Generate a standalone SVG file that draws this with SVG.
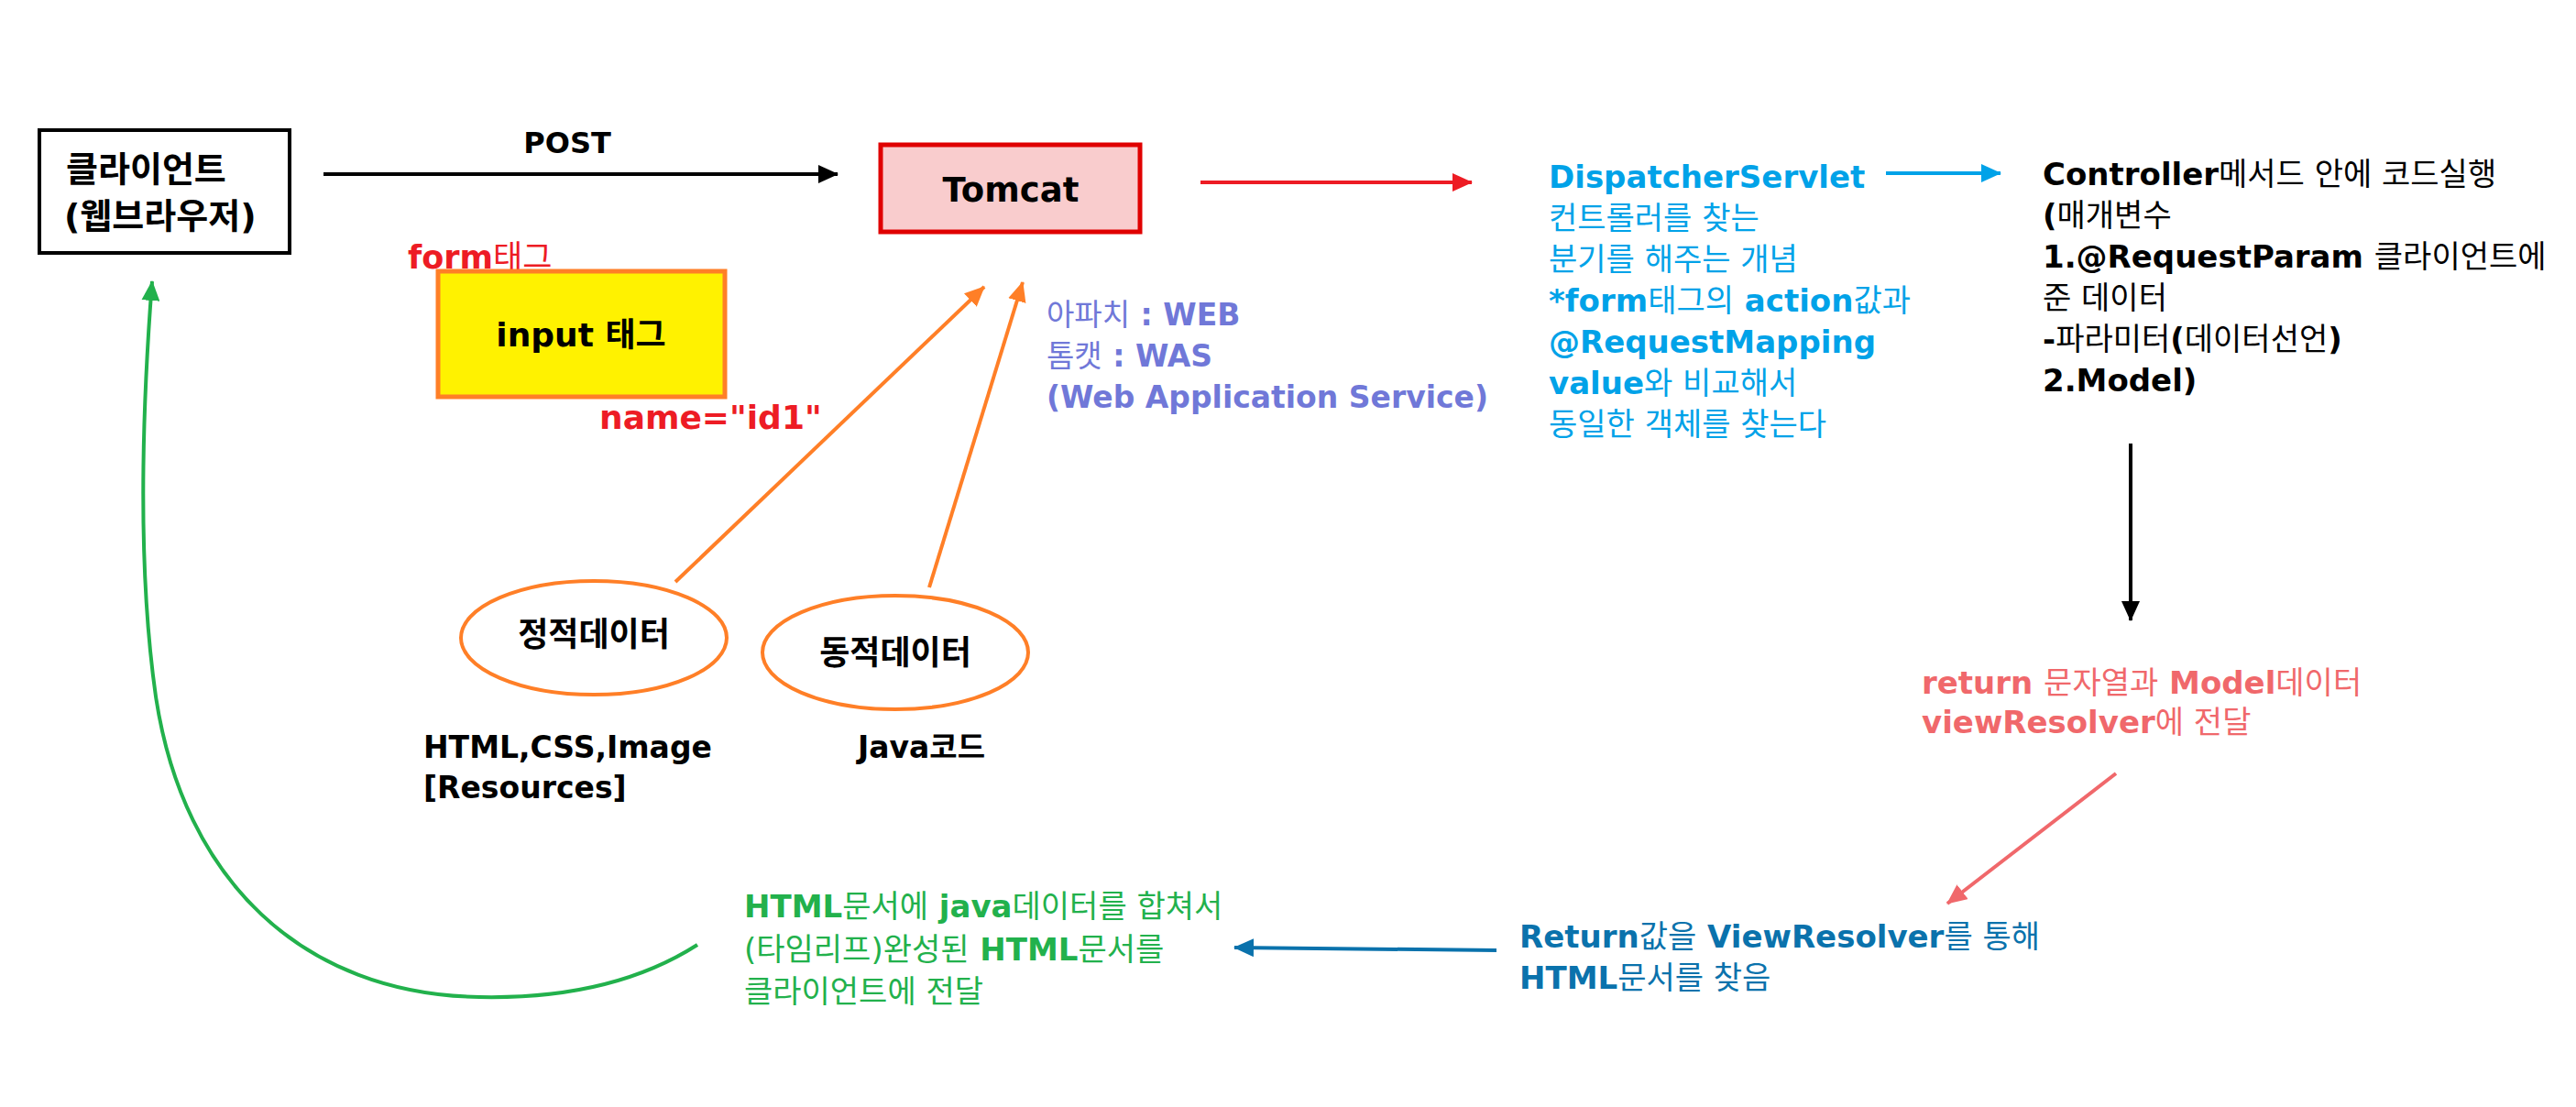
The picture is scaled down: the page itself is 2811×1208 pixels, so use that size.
<svg xmlns="http://www.w3.org/2000/svg" width="2811" height="1208" viewBox="0 0 2811 1208">
<style>
  text { font-family: "DejaVu Sans", "Noto Sans CJK KR", sans-serif; font-weight: bold; }
  .k { font-weight: normal; }
  .t34 { font-size: 34px; }
  .blk { fill: #000; }
  .red { fill: #ED1C24; }
  .peri { fill: #7078D8; }
  .cyan { fill: #00A2E8; }
  .pink { fill: #F0686B; }
  .dblue { fill: #0A72AC; }
  .green { fill: #22B14C; }
  .conn { fill: none; stroke-width: 4; }
</style>
<defs>
  <marker id="ah-black" markerUnits="userSpaceOnUse" viewBox="0 0 22 20" markerWidth="22" markerHeight="20" refX="21" refY="10" orient="auto"><path d="M0,0 L22,10 L0,20 z" fill="#000"/></marker>
  <marker id="ah-red" markerUnits="userSpaceOnUse" viewBox="0 0 22 20" markerWidth="22" markerHeight="20" refX="21" refY="10" orient="auto"><path d="M0,0 L22,10 L0,20 z" fill="#ED1C24"/></marker>
  <marker id="ah-cyan" markerUnits="userSpaceOnUse" viewBox="0 0 22 20" markerWidth="22" markerHeight="20" refX="21" refY="10" orient="auto"><path d="M0,0 L22,10 L0,20 z" fill="#00A2E8"/></marker>
  <marker id="ah-orange" markerUnits="userSpaceOnUse" viewBox="0 0 22 20" markerWidth="22" markerHeight="20" refX="21" refY="10" orient="auto"><path d="M0,0 L22,10 L0,20 z" fill="#FF7F27"/></marker>
  <marker id="ah-pink" markerUnits="userSpaceOnUse" viewBox="0 0 22 20" markerWidth="22" markerHeight="20" refX="21" refY="10" orient="auto"><path d="M0,0 L22,10 L0,20 z" fill="#F0686B"/></marker>
  <marker id="ah-dblue" markerUnits="userSpaceOnUse" viewBox="0 0 22 20" markerWidth="22" markerHeight="20" refX="21" refY="10" orient="auto"><path d="M0,0 L22,10 L0,20 z" fill="#0A72AC"/></marker>
  <marker id="ah-green" markerUnits="userSpaceOnUse" viewBox="0 0 22 20" markerWidth="22" markerHeight="20" refX="21" refY="10" orient="auto"><path d="M0,0 L22,10 L0,20 z" fill="#22B14C"/></marker>
</defs>
<rect width="2811" height="1208" fill="#fff"/>

<g id="connectors">
  <path class="conn" stroke="#000" d="M353,190 L914,190" marker-end="url(#ah-black)"/>
  <text class="blk" x="619" y="167" font-size="32" text-anchor="middle">POST</text>
  <path class="conn" stroke="#ED1C24" d="M1310,199 L1606,199" marker-end="url(#ah-red)"/>
  <path class="conn" stroke="#00A2E8" stroke-width="5" d="M2058,189 L2183,189" marker-end="url(#ah-cyan)"/>
  <path class="conn" stroke="#000" stroke-width="3" d="M2325,484 L2325,677" marker-end="url(#ah-black)"/>
  <path class="conn" stroke="#F0686B" d="M2309,844 L2125,986" marker-end="url(#ah-pink)"/>
  <path class="conn" stroke="#0A72AC" d="M1633,1037 L1347,1034" marker-end="url(#ah-dblue)"/>
  <path class="conn" stroke="#FF7F27" d="M737,635 L1074,313" marker-end="url(#ah-orange)"/>
  <path class="conn" stroke="#FF7F27" d="M1014,641 L1116,308" marker-end="url(#ah-orange)"/>
  <path class="conn" stroke="#22B14C" d="M761,1031 C700,1070 620,1090 523,1088 C330,1085 200,960 170,760 C150,620 155,450 166,307" marker-end="url(#ah-green)"/>
</g>

<g id="client">
  <rect x="43" y="142" width="273" height="134" fill="#fff" stroke="#000" stroke-width="4"/>
  <text class="blk" x="72" y="198" font-size="38">클라이언트</text>
  <text class="blk" x="70" y="249" font-size="38">(웹브라우저)</text>
</g>

<g id="tomcat">
  <rect x="961" y="158" width="283" height="95" fill="#F9CCCD" stroke="#E00000" stroke-width="5"/>
  <text class="blk" x="1103" y="220" font-size="37" text-anchor="middle">Tomcat</text>
</g>

<g id="form-input">
  <text class="red" x="445" y="293" font-size="35">form<tspan class="k">태그</tspan></text>
  <rect x="478" y="296" width="313" height="137" fill="#FFF200" stroke="#FF7F27" stroke-width="5"/>
  <text class="blk" x="634" y="378" font-size="36" text-anchor="middle">input 태그</text>
  <text class="red" x="654" y="468" font-size="36">name="id1"</text>
</g>

<g id="tomcat-note">
  <text class="peri" x="1142" y="355" font-size="33"><tspan class="k">아파치</tspan> : WEB</text>
  <text class="peri" x="1142" y="400" font-size="33"><tspan class="k">톰캣</tspan> : WAS</text>
  <text class="peri" x="1142" y="445" font-size="33">(Web Application Service)</text>
</g>

<g id="static-data">
  <ellipse cx="648" cy="696" rx="145" ry="62" fill="#fff" stroke="#FF7F27" stroke-width="4"/>
  <text class="blk" x="648" y="705" font-size="36" text-anchor="middle">정적데이터</text>
  <text class="blk" x="462" y="827" font-size="33">HTML,CSS,Image</text>
  <text class="blk" x="462" y="871" font-size="33">[Resources]</text>
</g>

<g id="dynamic-data">
  <ellipse cx="977" cy="712" rx="145" ry="62" fill="#fff" stroke="#FF7F27" stroke-width="4"/>
  <text class="blk" x="977" y="725" font-size="36" text-anchor="middle">동적데이터</text>
  <text class="blk" x="936" y="827" font-size="33">Java코드</text>
</g>

<g id="dispatcher" class="t34">
  <text class="cyan" x="1690" y="205">DispatcherServlet</text>
  <text class="cyan k" x="1690" y="250">컨트롤러를 찾는</text>
  <text class="cyan k" x="1690" y="295">분기를 해주는 개념</text>
  <text class="cyan" x="1690" y="340">*form<tspan class="k">태그의</tspan> action<tspan class="k">값과</tspan></text>
  <text class="cyan" x="1690" y="385">@RequestMapping</text>
  <text class="cyan" x="1690" y="430">value<tspan class="k">와 비교해서</tspan></text>
  <text class="cyan k" x="1690" y="475">동일한 객체를 찾는다</text>
</g>

<g id="controller" class="t34">
  <text class="blk" x="2229" y="202">Controller<tspan class="k">메서드 안에 코드실행</tspan></text>
  <text class="blk" x="2229" y="247">(<tspan class="k">매개변수</tspan></text>
  <text class="blk" x="2229" y="292">1.@RequestParam <tspan class="k">클라이언트에</tspan></text>
  <text class="blk k" x="2229" y="337">준 데이터</text>
  <text class="blk" x="2229" y="382">-<tspan class="k">파라미터</tspan>(<tspan class="k">데이터선언</tspan>)</text>
  <text class="blk" x="2229" y="427">2.Model)</text>
</g>

<g id="view-resolver-note" class="t34">
  <text class="pink" x="2097" y="757">return <tspan class="k">문자열과</tspan> Model<tspan class="k">데이터</tspan></text>
  <text class="pink" x="2097" y="800">viewResolver<tspan class="k">에 전달</tspan></text>
</g>

<g id="view-resolver" class="t34">
  <text class="dblue" x="1658" y="1034">Return<tspan class="k">값을</tspan> ViewResolver<tspan class="k">를 통해</tspan></text>
  <text class="dblue" x="1658" y="1079">HTML<tspan class="k">문서를 찾음</tspan></text>
</g>

<g id="html-merge" class="t34">
  <text class="green" x="812" y="1001">HTML<tspan class="k">문서에</tspan> java<tspan class="k">데이터를 합쳐서</tspan></text>
  <text class="green" x="812" y="1048"><tspan class="k">(타임리프)완성된</tspan> HTML<tspan class="k">문서를</tspan></text>
  <text class="green k" x="812" y="1094">클라이언트에 전달</text>
</g>
</svg>
